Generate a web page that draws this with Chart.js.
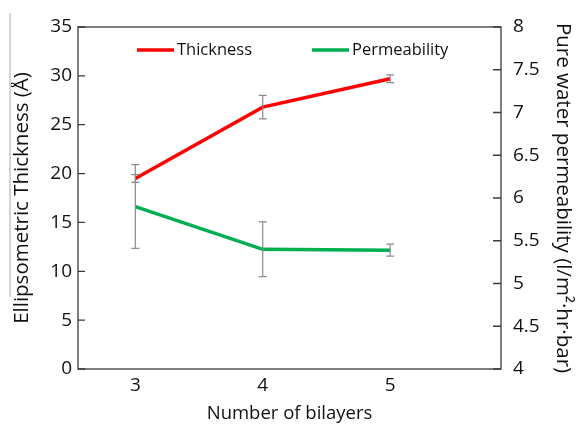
<!DOCTYPE html>
<html>
<head>
<meta charset="utf-8">
<script src="https://cdn.jsdelivr.net/npm/chart.js@4.4.1/dist/chart.umd.min.js"></script>
<style>
  html, body { margin: 0; padding: 0; background: #fff; }
  #wrap { position: relative; width: 577px; height: 427px; }
  #edge { position: absolute; left: 9px; top: 13px; width: 0; height: 284px; border-left: 2px solid #d4d4d4; }
</style>
</head>
<body>
<div id="wrap">
  <div id="edge"></div>
  <canvas id="chart"></canvas>
</div>
<script>
// Data
const bilayers = [3, 4, 5];
const thickness = [19.5, 26.8, 29.7];
const thicknessErr = [0.4, 1.2, 0.4];
const permeability = [5.9, 5.4, 5.39];
const permeabilityErr = [0.49, 0.32, 0.07];
const thicknessTicks = [0, 5, 10, 15, 20, 25, 30, 35];
const permeabilityTicks = [4, 4.5, 5, 5.5, 6, 6.5, 7, 7.5, 8];

const FONT = '"Open Sans", Lato, sans-serif';
const RED = '#ff0000';
const GREEN = '#00b050';

// error bars, frame, inward tick marks and the legend inside the plot
const decorPlugin = {
  id: 'decor',
  afterDatasetsDraw(chart) {
    const ctx = chart.ctx;
    const area = chart.chartArea;
    const x = chart.scales.x;

    // error bars
    ctx.save();
    ctx.strokeStyle = '#8c8c8c';
    ctx.lineWidth = 1.2;
    chart.data.datasets.forEach(ds => {
      const ys = chart.scales[ds.yAxisID];
      ds.data.forEach((p, i) => {
        const px = x.getPixelForValue(p.x);
        const top = ys.getPixelForValue(p.y + ds.errors[i]);
        const bot = ys.getPixelForValue(p.y - ds.errors[i]);
        ctx.beginPath();
        ctx.moveTo(px, top); ctx.lineTo(px, bot);
        ctx.moveTo(px - 4, top); ctx.lineTo(px + 4, top);
        ctx.moveTo(px - 4, bot); ctx.lineTo(px + 4, bot);
        ctx.stroke();
      });
    });
    ctx.restore();

    // frame
    ctx.save();
    ctx.strokeStyle = '#3a3a3a';
    ctx.lineWidth = 1.3;
    ctx.strokeRect(area.left, area.top, area.right - area.left, area.bottom - area.top);

    // tick marks pointing into the plot
    const yl = chart.scales.y, yr = chart.scales.y1;
    ctx.beginPath();
    yl.ticks.forEach(t => {
      const py = yl.getPixelForValue(t.value);
      ctx.moveTo(area.left, py); ctx.lineTo(area.left + 7, py);
    });
    yr.ticks.forEach(t => {
      const py = yr.getPixelForValue(t.value);
      ctx.moveTo(area.right, py); ctx.lineTo(area.right - 8, py);
    });
    ctx.stroke();
    ctx.restore();

    // legend
    ctx.save();
    ctx.font = '16.5px ' + FONT;
    ctx.textBaseline = 'middle';
    const legendY = area.top + 23;
    const starts = [area.left + 59, area.left + 234];
    chart.data.datasets.forEach((ds, i) => {
      const sx = starts[i];
      ctx.strokeStyle = ds.borderColor;
      ctx.lineWidth = 3.5;
      ctx.beginPath();
      ctx.moveTo(sx, legendY); ctx.lineTo(sx + 37, legendY);
      ctx.stroke();
      ctx.fillStyle = '#111';
      ctx.fillText(ds.label, sx + 40, legendY);
    });
    ctx.restore();
  }
};

new Chart(document.getElementById('chart'), {
  type: 'line',
  data: {
    datasets: [
      {
        label: 'Thickness',
        data: bilayers.map((b, i) => ({ x: b, y: thickness[i] })),
        errors: thicknessErr,
        yAxisID: 'y',
        borderColor: RED,
        backgroundColor: RED,
        borderWidth: 3.5,
        pointRadius: 0,
        tension: 0
      },
      {
        label: 'Permeability',
        data: bilayers.map((b, i) => ({ x: b, y: permeability[i] })),
        errors: permeabilityErr,
        yAxisID: 'y1',
        borderColor: GREEN,
        backgroundColor: GREEN,
        borderWidth: 3.5,
        pointRadius: 0,
        tension: 0
      }
    ]
  },
  options: {
    responsive: true,
    maintainAspectRatio: false,
    animation: false,
    layout: { padding: { top: 27, left: 0, right: 0, bottom: 0 } },
    plugins: {
      legend: { display: false },
      tooltip: { enabled: false }
    },
    scales: {
      x: {
        type: 'linear',
        min: 2.55,
        max: 5.87,
        afterBuildTicks: axis => { axis.ticks = bilayers.map(v => ({ value: v })); },
        afterFit: s => { s.height = 58; },
        grid: { display: false, drawTicks: false },
        border: { display: false },
        ticks: { color: '#111', padding: 5, font: { family: FONT, size: 19 } },
        title: {
          display: true,
          text: 'Number of bilayers',
          color: '#111',
          padding: { bottom: 2 },
          font: { family: FONT, size: 18.5 }
        }
      },
      y: {
        position: 'left',
        min: 0,
        max: 35,
        afterBuildTicks: axis => { axis.ticks = thicknessTicks.map(v => ({ value: v })); },
        afterFit: s => { s.width = 78; },
        grid: { display: false, drawTicks: false },
        border: { display: false },
        ticks: { color: '#111', padding: 6, font: { family: FONT, size: 19 } },
        title: {
          display: true,
          text: 'Ellipsometric Thickness (Å)',
          color: '#111',
          padding: { top: 10 },
          font: { family: FONT, size: 20.5 }
        }
      },
      y1: {
        position: 'right',
        min: 4,
        max: 8,
        afterBuildTicks: axis => { axis.ticks = permeabilityTicks.map(v => ({ value: v })); },
        afterFit: s => { s.width = 76; },
        grid: { display: false, drawTicks: false },
        border: { display: false },
        ticks: {
          color: '#111',
          padding: 12,
          font: { family: FONT, size: 19 },
          callback: v => String(v)
        },
        title: {
          display: true,
          text: 'Pure water permeability (l/m²·hr·bar)',
          color: '#111',
          padding: { top: 2 },
          font: { family: FONT, size: 20.5 }
        }
      }
    }
  },
  plugins: [decorPlugin]
});
</script>
</body>
</html>
